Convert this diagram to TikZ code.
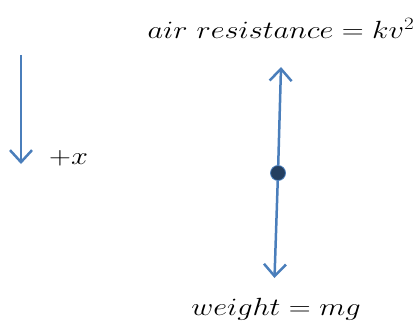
\documentclass[tikz,border=0pt]{standalone}
\usetikzlibrary{arrows.meta}
\definecolor{arrowblue}{HTML}{4A7EBB}
\definecolor{dotnavy}{HTML}{243F60}
\tikzset{
  force/.style={draw=arrowblue, line width=2.5pt, -{Straight Barb[length=12pt,width=22pt,line width=2.5pt]}},
  massdot/.style={circle, fill=dotnavy, draw=arrowblue, line width=0.8pt, minimum size=15pt, inner sep=0pt},
  lbl/.style={font=\fontsize{25}{30}\selectfont, inner sep=0pt, xscale=1.22}
}
\begin{document}
\begin{tikzpicture}[x=1pt,y=-1pt]
\useasboundingbox (0,0) rectangle (419,326);
\coordinate (ls) at (21,55);
\coordinate (le) at (21,164);
\draw[force] (ls) -- (le);
\node[lbl, anchor=west] (px) at (49,158) {$+x$};
\node[massdot] (m) at (278,173) {};
\coordinate (up) at (281,67);
\coordinate (dn) at (274.5,278);
\draw[force] (m) -- (up);
\draw[force] (m) -- (dn);
\node[lbl] (air) at (281,28) {$air\ resistance = kv^2$};
\node[lbl] (wt) at (276,309) {$weight = mg$};
\end{tikzpicture}
\end{document}
